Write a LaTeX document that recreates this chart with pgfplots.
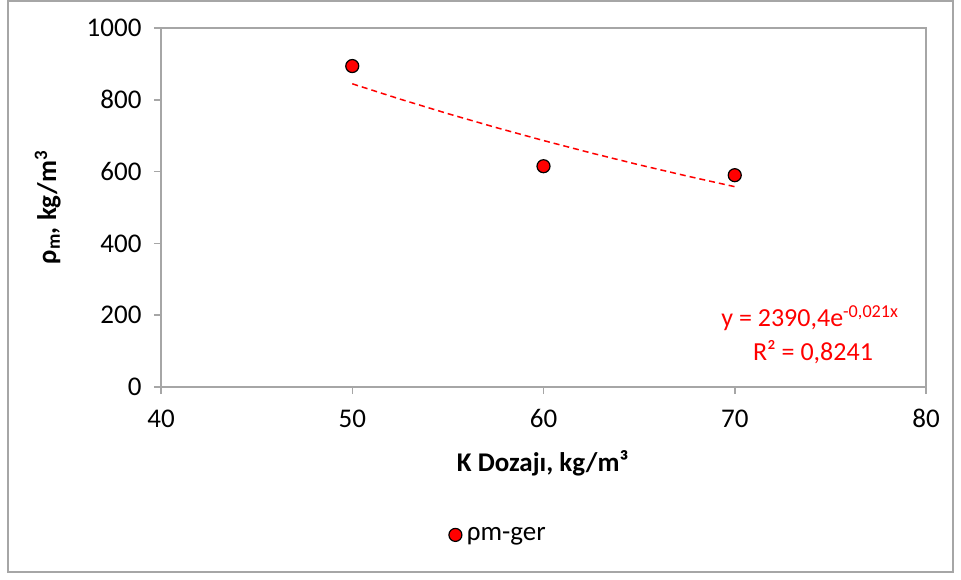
\documentclass[border=0pt]{standalone}
\usepackage{pgfplots}
\pgfplotsset{compat=1.18}
\usepackage{fontspec}
\setmainfont{Carlito}
\definecolor{axgray}{RGB}{166,166,166}
\definecolor{exred}{RGB}{255,0,0}
\begin{document}
\begin{tikzpicture}[x=1pt,y=1pt]
\path (0,0) rectangle (961,579);
\draw[axgray,line width=1.5pt] (8,7) rectangle (953,578);
\begin{axis}[
  at={(161pt,192pt)}, anchor=south west,
  scale only axis, width=765pt, height=359pt,
  xmin=40, xmax=80, ymin=0, ymax=1000,
  xtick={40,50,...,80}, ytick={0,200,...,1000},
  axis line style={axgray,line width=1.5pt},
  tick style={axgray,line width=1.5pt},
  tick align=outside, major tick length=7pt,
  xtick pos=bottom, ytick pos=left,
  /pgf/number format/assume math mode=true,
  /pgf/number format/1000 sep={},
  ticklabel style={font=\fontsize{27}{32}\selectfont, text=black},
  xticklabel style={yshift=-12pt},
  yticklabel style={xshift=-9pt},
  xlabel={\textbf{K Dozajı, kg/m³}},
  ylabel={\textbf{ρ\textsubscript{m}, kg/m\textsuperscript{3}}},
  label style={font=\fontsize{27}{32}\selectfont},
  xlabel style={at={(axis description cs:0.499,-0.212)}, anchor=center},
  ylabel style={at={(axis description cs:-0.148,0.5)}, anchor=center},
  legend style={at={(0.441,-0.412)}, anchor=center, draw=none, fill=none,
    font=\fontsize{27}{32}\selectfont, column sep=3pt},
  legend cell align=left,
  clip=false,
]
\addplot[exred, dashed, line width=1.5pt, dash pattern=on 6pt off 4pt, forget plot] coordinates {
(50,844.6) (52.5,801.9) (55,761.4) (57.5,723.0) (60,686.5) (62.5,651.8) (65,618.9) (67.5,587.7) (70,558.0)};
\addplot[only marks, mark=*, mark size=6.5pt, mark options={fill=exred, draw=black, line width=1.2pt}] coordinates {
(50,894) (60,615) (70,590)};
\addlegendentry{ρm-ger}
\node[anchor=east, text=exred, font=\fontsize{26}{31}\selectfont] at (axis cs:78.75,192) {y = 2390,4e\textsuperscript{-0,021x}};
\node[anchor=center, text=exred, font=\fontsize{26}{31}\selectfont] at (axis cs:74.09,97.5) {R² = 0,8241};
\end{axis}
\end{tikzpicture}
\end{document}
